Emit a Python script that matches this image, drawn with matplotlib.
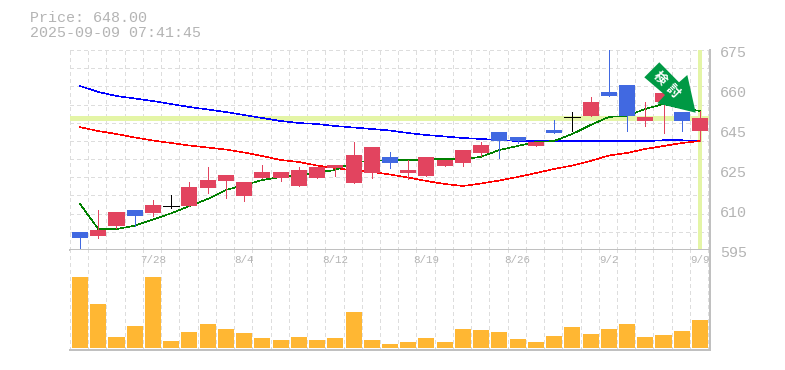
#!/usr/bin/env python
import numpy as np
import matplotlib
matplotlib.use('Agg')
import matplotlib.pyplot as plt
from matplotlib.patches import Polygon, Rectangle

opens = [602.2, 600.6, 604.6, 611.0, 609.8, 612.7, 612.6, 619.8, 622.6, 616.6, 623.8, 623.8,
         620.6, 623.8, 627.8, 621.8, 625.8, 632.2, 625.8, 624.6, 628.6, 629.8, 633.8, 642.2,
         640.2, 636.6, 643.0, 648.2, 648.6, 658.2, 661.0, 646.6, 654.2, 650.2, 642.6]
closes = [599.8, 603.0, 610.2, 608.6, 613.0, 612.7, 620.2, 623.0, 625.0, 622.2, 626.2, 626.2,
          627.0, 628.2, 629.0, 633.0, 636.2, 629.8, 627.0, 632.2, 631.0, 635.0, 637.0, 638.6,
          638.6, 638.2, 641.8, 648.2, 654.2, 656.6, 648.6, 648.2, 657.8, 646.6, 648.0]
highs = [602.2, 611.0, 610.2, 611.0, 615.0, 617.0, 622.2, 628.2, 625.0, 622.2, 629.0, 626.2,
         628.2, 628.2, 629.0, 638.2, 636.2, 634.2, 631.0, 632.2, 631.0, 635.0, 638.2, 642.2,
         640.2, 638.2, 647.0, 650.2, 656.2, 675.0, 661.0, 654.2, 657.8, 650.2, 650.6]
lows = [595.8, 599.8, 603.8, 604.7, 608.6, 611.8, 612.6, 617.8, 615.8, 614.6, 623.8, 622.6,
        620.6, 623.8, 624.6, 621.8, 623.8, 627.8, 623.4, 624.6, 628.6, 628.6, 632.6, 631.8,
        637.8, 636.6, 641.8, 642.6, 648.6, 656.6, 642.6, 644.6, 641.8, 642.7, 638.8]

ma_short = [613.4, 603.4, 603.4, 604.7, 607.2, 609.7, 612.6, 615.4, 619.0, 621.0, 623.0, 624.2,
            625.0, 626.0, 627.0, 630.2, 630.6, 631.0, 630.9, 631.2, 631.4, 631.2, 632.3, 635.0,
            636.6, 638.2, 638.6, 641.4, 645.0, 648.2, 648.7, 651.4, 653.4, 651.8, 650.6]
ma_mid = [644.1, 642.6, 641.4, 640.0, 638.8, 637.8, 636.8, 636.0, 635.2, 634.0, 632.6, 631.0,
          630.2, 628.8, 627.8, 626.8, 626.2, 625.2, 624.0, 622.6, 621.4, 620.6, 621.6, 622.8,
          624.2, 625.8, 627.4, 628.8, 630.6, 632.8, 633.8, 635.4, 636.6, 637.8, 638.6]
ma_long = [660.6, 658.2, 656.6, 655.6, 654.6, 653.4, 652.2, 651.2, 650.2, 649.0, 647.8, 646.6,
           645.8, 645.4, 644.6, 644.0, 643.4, 642.8, 641.8, 641.0, 640.4, 639.8, 639.4, 639.0,
           638.6, 638.5, 638.5, 638.5, 638.5, 638.5, 638.5, 638.5, 638.9, 638.9, 638.6]

volumes = [71, 44, 11, 22, 71, 7, 16, 24, 19, 15, 10, 8, 11, 8, 10, 36, 8, 4,
           6, 10, 6, 19, 18, 16, 9, 6, 12, 21, 14, 19, 24, 11, 13, 17, 28]

date_idx = [4, 9, 14, 19, 24, 29, 34]
date_labels = ['7/28', '8/4', '8/12', '8/19', '8/26', '9/2', '9/9']
price_ticks = [595, 611, 627, 643, 659, 675]
price_labels = ['595', '610', '625', '645', '660', '675']
last_price = 648.0

UP = '#e2445f'
DOWN = '#4169e1'
DOJI = '#000000'
VOL = '#ffb733'
GRID = '#dddddd'
FRAME = '#c0c0c0'
TEXT = '#b4b4b4'
LIME = '#e4f5a6'
MONO = 'Liberation Mono'
W, H = 785, 370

plt.rcParams['lines.antialiased'] = False
plt.rcParams['patch.antialiased'] = False

fig = plt.figure(figsize=(W / 100, H / 100), dpi=100, facecolor='white')
ax = fig.add_axes([70 / W, (H - 250) / H, 640 / W, 200 / H])
axv = fig.add_axes([70 / W, (H - 350) / H, 640 / W, 100 / H], sharex=ax)

xs = np.arange(len(opens))
grid_x = np.arange(36) - 0.55

for a in (ax, axv):
    a.set_xticks(grid_x, minor=True)
    a.set_xticks([])
    a.grid(True, which='minor', axis='x', color=GRID, lw=0.7, ls=(0, (4, 4)))
    a.tick_params(which='both', length=0, labelbottom=False, labelleft=False)
    a.set_axisbelow(True)
    for side in ('top', 'left'):
        a.spines[side].set_visible(False)
    for side in ('bottom', 'right'):
        a.spines[side].set_color(FRAME)
        a.spines[side].set_linewidth(1.1)

ax.set_xlim(-0.55, 34.55)
ax.set_ylim(595, 675)
axv.set_ylim(-2, 98)

ax.set_yticks(np.linspace(595, 675, 12), minor=True)
ax.grid(True, which='minor', axis='y', color=GRID, lw=0.7, ls=(0, (4, 4)))

# price level and last bar markers
ax.axhline(last_price, color=LIME, lw=2.2, zorder=1.5)
ax.axvline(xs[-1], color=LIME, lw=1.5, zorder=1.5)

ax.plot(xs, ma_long, color='#0000ff', lw=0.4, zorder=2)
ax.plot(xs, ma_mid, color='#ff0000', lw=0.4, zorder=2)
ax.plot(xs, ma_short, color='#008000', lw=0.4, zorder=2)

width = 0.88
for i, (o, c, h, l) in enumerate(zip(opens, closes, highs, lows)):
    if c == o:
        col = DOJI
    else:
        col = UP if c > o else DOWN
    ax.plot([i, i], [l, h], color=col, lw=0.7, zorder=3, solid_capstyle='butt')
    if c == o:
        ax.plot([i - width / 2, i + width / 2], [o, o], color=col, lw=0.7, zorder=3,
                solid_capstyle='butt')
    else:
        ax.add_patch(Rectangle((i - width / 2, min(o, c)), width, abs(c - o), fc=col, ec='none',
                               zorder=3))

axv.bar(xs, volumes, width=width, color=VOL, zorder=2)

# price labels sit a little below their grid line
for p, lab in zip(price_ticks, price_labels):
    ax.annotate(lab, (1, p), xycoords=ax.get_yaxis_transform(), xytext=(10, -3),
                textcoords='offset pixels', ha='left', va='center', family=MONO,
                fontsize=10.8, color=TEXT, annotation_clip=False)

for i, lab in zip(date_idx, date_labels):
    axv.text(i, 88, lab, ha='center', va='center', family=MONO, fontsize=7.8,
             color=TEXT, zorder=1, clip_on=False)

fig.text(30 / W, 1 - 18 / H, 'Price: 648.00', family=MONO, fontsize=10.8,
         color=TEXT, va='center')
fig.text(30 / W, 1 - 33 / H, '2025-09-09 07:41:45', family=MONO, fontsize=10.8,
         color=TEXT, va='center')

# green callout arrow
arrow_px = [(659.3, 62.3), (679, 82.3), (687.3, 75), (695.7, 112.7), (657.3, 103.3), (665, 95),
            (644.3, 77.3)]
arrow = Polygon([(x / W, 1 - y / H) for x, y in arrow_px], closed=True, fc='#009944', ec='none',
                transform=fig.transFigure, antialiased=True, zorder=5)
fig.add_artist(arrow)
for ch, (cx, cy) in zip('検討', [(660, 78.3), (673.3, 90.7)]):
    fig.text(cx / W, 1 - cy / H, ch, family=['Noto Sans CJK JP', 'DejaVu Sans'],
             fontweight='bold', fontsize=9.5, color='white', rotation=-45, ha='center',
             va='center', rotation_mode='anchor', zorder=6)

fig.savefig('out.png', dpi=100, facecolor='white')
